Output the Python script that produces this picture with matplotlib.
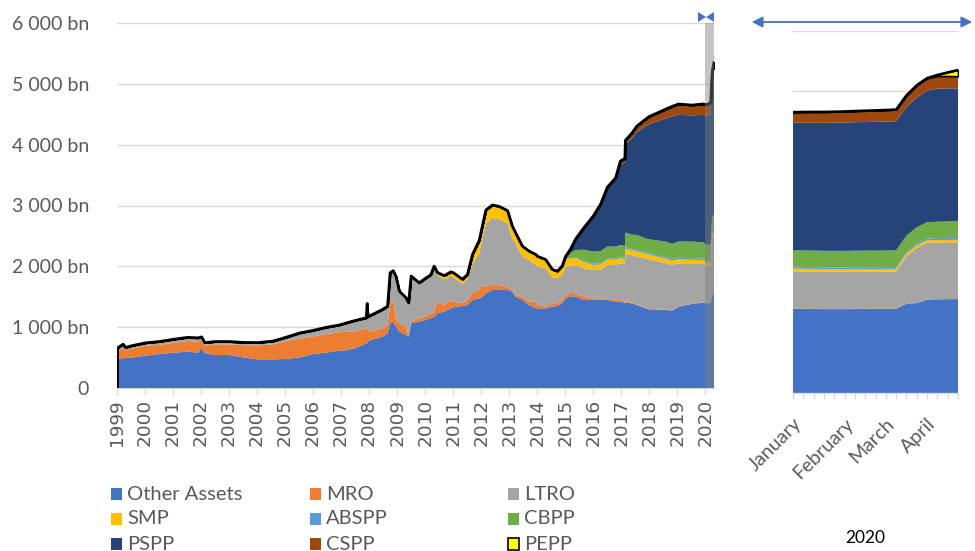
import matplotlib
matplotlib.use('Agg')
import matplotlib.pyplot as plt
import numpy as np
import pandas as pd
from matplotlib.patches import Polygon, Rectangle, FancyArrowPatch

plt.rcParams['font.family'] = ['Lato', 'DejaVu Sans']

series_names = ['Other Assets', 'MRO', 'LTRO', 'SMP', 'ABSPP', 'CBPP', 'PSPP', 'CSPP', 'PEPP']
colors = ['#4472C4', '#ED7D31', '#A5A5A5', '#FFC000', '#5B9BD5', '#70AD47', '#264478', '#9E480E', '#FFFF00']

# ---- historical data (bn EUR), decimal years ----
hist_dates = [1999.00, 1999.22, 1999.30, 1999.52, 2000.02, 2000.52, 2001.02, 2001.52, 2001.90, 2002.02,
              2002.13, 2002.51, 2003.02, 2003.50, 2004.02, 2004.57, 2005.02, 2005.52, 2006.02, 2006.47,
              2006.94, 2007.00, 2007.48, 2007.90, 2007.93, 2007.96, 2008.00, 2008.48, 2008.66, 2008.75,
              2008.86, 2008.96, 2009.08, 2009.32, 2009.41, 2009.50, 2009.79, 2010.00, 2010.20, 2010.32,
              2010.44, 2010.68, 2010.92, 2011.01, 2011.33, 2011.51, 2011.69, 2011.93, 2012.05, 2012.17,
              2012.40, 2012.64, 2012.94, 2013.11, 2013.23, 2013.47, 2013.71, 2013.95, 2014.00, 2014.30,
              2014.54, 2014.72, 2014.89, 2015.01, 2015.19, 2015.37, 2015.67, 2016.00, 2016.26, 2016.50,
              2016.80, 2016.97, 2017.13, 2017.15, 2017.39, 2017.56, 2017.86, 2017.99, 2018.58, 2018.81,
              2019.05, 2019.52, 2019.94]
hist_other = [477, 490, 495, 499, 532, 559, 581, 597, 581, 660,
              575, 542, 542, 504, 471, 471, 477, 504, 559, 581,
              614, 605, 652, 735, 746, 760, 779, 844, 899, 1064,
              1091, 1009, 927, 872, 844, 1064, 1091, 1118, 1150, 1173,
              1228, 1256, 1310, 1327, 1349, 1365, 1448, 1475, 1502, 1557,
              1612, 1612, 1612, 1585, 1502, 1448, 1365, 1310, 1310, 1310,
              1338, 1349, 1393, 1475, 1510, 1502, 1448, 1448, 1448, 1448,
              1420, 1420, 1400, 1404, 1390, 1365, 1310, 1294, 1283, 1272,
              1338, 1382, 1404]
hist_mro = [130, 170, 125, 150, 165, 150, 160, 175, 183, 120,
            120, 176, 176, 200, 230, 245, 290, 310, 290, 307,
            301, 330, 275, 240, 263, 200, 148, 137, 140, 300,
            357, 137, 137, 137, 10, 27, 55, 55, 70, 83,
            192, 109, 138, 93, 44, 83, 109, 137, 192, 110,
            82, 82, 55, 27, 28, 54, 55, 110, 55, 28,
            55, 44, 55, 55, 55, 55, 54, 27, 27, 27,
            27, 27, 20, 20, 15, 10, 8, 5, 5, 5,
            5, 5, 5]
hist_ltro = [45, 60, 45, 45, 45, 55, 60, 60, 60, 60,
             50, 45, 45, 45, 45, 55, 65, 90, 100, 110,
             120, 110, 180, 180, 380, 210, 254, 310, 306, 530,
             480, 690, 528, 473, 546, 749, 583, 627, 640, 747,
             439, 422, 394, 400, 320, 343, 478, 603, 770, 1040,
             1100, 1080, 1040, 850, 850, 660, 685, 603, 631, 630,
             425, 411, 411, 466, 440, 466, 466, 466, 466, 548,
             576, 604, 610, 780, 780, 785, 815, 817, 763, 746,
             708, 664, 642]
hist_smp = [0] * 40 + [40, 60, 68, 75, 75, 75, 160, 210, 215, 219, 214, 211, 209,
                       200, 170, 170, 145, 172, 170, 145, 130, 117, 124,
                       120, 120, 115, 100, 82, 90, 85, 85, 85, 85,
                       85, 80, 83, 80, 80, 75, 70, 65, 55, 50]
hist_abspp = [0] * 63 + [5, 8, 10, 15, 17, 18, 20, 21, 22, 23, 23, 24, 24, 25, 26, 27, 27, 27, 27, 29]
hist_cbpp = [0] * 62 + [20, 40, 90, 120, 190, 203, 200, 197, 196, 194, 200, 243, 230, 250, 224, 223,
                        254, 250, 264, 274, 265]
hist_pspp = [0] * 64 + [60, 180, 364, 583, 770, 967, 1090, 1318, 1370, 1446, 1590, 1690, 1837, 1890,
                        2025, 2093, 2083, 2075, 2095]
hist_cspp = [0] * 69 + [5, 40, 60, 65, 70, 87, 99, 117, 125, 150, 165, 178, 168, 180]
hist_pepp = [0] * 83

# ---- weekly 2020 data (bn EUR) ----
weeks_2020 = ['2020-01-03', '2020-01-10', '2020-01-17', '2020-01-24', '2020-01-31', '2020-02-07',
              '2020-02-14', '2020-02-21', '2020-02-28', '2020-03-06', '2020-03-13', '2020-03-20',
              '2020-03-27', '2020-04-03', '2020-04-10', '2020-04-17', '2020-04-24']
w_other = [1395, 1393, 1392, 1390, 1390, 1390, 1392, 1393, 1394, 1395, 1397, 1480, 1490, 1550, 1553, 1555, 1556]
w_mro = [2, 2, 2, 2, 2, 2, 2, 2, 2, 2, 2, 2, 2, 2, 2, 2, 2]
w_ltro = [620, 620, 618, 617, 617, 616, 616, 616, 616, 616, 616, 784, 913, 937, 940, 940, 940]
w_smp = [45, 45, 45, 44, 44, 44, 44, 44, 43, 43, 43, 43, 42, 41, 41, 40, 40]
w_abspp = [30, 30, 30, 30, 30, 30, 30, 30, 30, 30, 30, 30, 30, 31, 31, 31, 31]
w_cbpp = [272, 272, 273, 273, 273, 274, 274, 274, 275, 275, 276, 270, 270, 270, 272, 276, 280]
w_pspp = [2115, 2118, 2120, 2122, 2125, 2127, 2130, 2132, 2135, 2138, 2140, 2130, 2150, 2180, 2205, 2205, 2200]
w_cspp = [177, 178, 180, 181, 182, 184, 186, 188, 190, 192, 194, 195, 205, 205, 208, 205, 200]
w_pepp = [0, 0, 0, 0, 0, 0, 0, 0, 0, 0, 0, 0, 0, 3, 20, 60, 105]

y_ticks = [0, 1000, 2000, 3000, 4000, 5000, 6000]
y_labels = ['0', '1 000 bn', '2 000 bn', '3 000 bn', '4 000 bn', '5 000 bn', '6 000 bn']
years = list(range(1999, 2021))

hist = [hist_other, hist_mro, hist_ltro, hist_smp, hist_abspp, hist_cbpp, hist_pspp, hist_cspp, hist_pepp]
wk = [w_other, w_mro, w_ltro, w_smp, w_abspp, w_cbpp, w_pspp, w_cspp, w_pepp]

wdt = pd.to_datetime(weeks_2020)
w_dec = list(wdt.year + (wdt.dayofyear - 1) / 366.0)
x_main = np.array(hist_dates + w_dec)
main_series = [np.array(h + w, dtype=float) for h, w in zip(hist, wk)]

W, H = 975, 551
fig = plt.figure(figsize=(W / 100, H / 100), dpi=100)

def fx(px):
    return px / W

def fy(py):
    return 1 - py / H

grid_c = '#D9D9D9'
txt_c = '#595959'

def draw_stack(ax, x, series, lw_total=2.0):
    cum = np.zeros_like(series[0])
    for s, c in zip(series[:8], colors[:8]):
        ax.fill_between(x, cum, cum + s, facecolor=c, edgecolor='none', linewidth=0, zorder=2)
        cum = cum + s
    total = cum + series[8]
    ax.fill_between(x, cum, total, facecolor=colors[8], edgecolor='black', linewidth=1.2, zorder=3)
    ax.plot(x, total, color='black', lw=lw_total, zorder=4, solid_joinstyle='round')
    return total

# ---- main axes ----
ax = fig.add_axes([fx(117), fy(388), fx(714) - fx(117), fy(23) - fy(388)])
total = draw_stack(ax, x_main, main_series)
ax.plot([x_main[0], x_main[0]], [0, total[0]], color='black', lw=2.0, zorder=4)
ax.set_xlim(1999.0, x_main[-1])
ax.set_ylim(0, 6000)
ax.set_yticks(y_ticks)
ax.set_yticklabels(y_labels)
ax.yaxis.grid(True, color=grid_c, lw=1.0, zorder=0)
ax.set_axisbelow(True)
ax.tick_params(axis='y', length=0, pad=20, labelsize=14, labelcolor=txt_c)
ax.set_xticks(years)
ax.set_xticklabels([str(y) for y in years], rotation=90, family=['DejaVu Sans'])
ax.tick_params(axis='x', length=5, width=1, color=grid_c, labelsize=13.3, labelcolor=txt_c, pad=3)
for sp in ['left', 'right', 'top']:
    ax.spines[sp].set_visible(False)
ax.spines['bottom'].set_color(grid_c)
ax.spines['bottom'].set_linewidth(1)
ax.spines['bottom'].set_zorder(1)
# highlighted 2020 band
ax.axvspan(2020.0, x_main[-1], ymin=0, ymax=1, facecolor='#808080', alpha=0.45, edgecolor='none', zorder=5)

# bow-tie marker above the band
fig.add_artist(Polygon([(fx(698), fy(12)), (fx(698), fy(22)), (fx(706), fy(17))], closed=True,
                       transform=fig.transFigure, facecolor='#4472C4', edgecolor='none'))
fig.add_artist(Polygon([(fx(714), fy(12)), (fx(714), fy(22)), (fx(706), fy(17))], closed=True,
                       transform=fig.transFigure, facecolor='#4472C4', edgecolor='none'))

# ---- inset axes (2020 weekly) ----
axi = fig.add_axes([fx(793), fy(393), fx(958) - fx(793), fy(31) - fy(393)])
xi = np.arange(len(weeks_2020))
draw_stack(axi, xi, [np.array(s, dtype=float) for s in wk], lw_total=1.8)
axi.set_xlim(0, len(weeks_2020) - 1)
axi.set_ylim(0, 6000)
axi.set_yticks(y_ticks)
axi.yaxis.grid(True, color=grid_c, lw=1.0, zorder=0)
axi.set_axisbelow(True)
axi.tick_params(axis='y', length=0, labelleft=False)
month_labels = []
prev = None
for d in wdt:
    m = d.strftime('%B')
    month_labels.append(m if m != prev else '')
    prev = m
axi.set_xticks(xi)
axi.set_xticklabels(month_labels, rotation=45, ha='right', rotation_mode='anchor')
axi.tick_params(axis='x', length=4, width=1, color=grid_c, labelsize=14, labelcolor=txt_c, pad=12)
for sp in ['left', 'right', 'top']:
    axi.spines[sp].set_visible(False)
axi.spines['bottom'].set_color(grid_c)
axi.spines['bottom'].set_linewidth(1)

# double arrow above inset
fig.add_artist(FancyArrowPatch((fx(749), fy(22)), (fx(975), fy(22)), transform=fig.transFigure,
                               arrowstyle='<|-|>', mutation_scale=16, color='#4472C4', lw=1.3))

fig.text(fx(865), fy(538), '2020', ha='center', va='center', fontsize=12.5, color='black')

# ---- legend ----
row_y = [494, 519, 544]
col_x = [111, 310, 508]
for i, (name, c) in enumerate(zip(series_names, colors)):
    r, k = divmod(i, 3)
    x0, y0 = col_x[k], row_y[r]
    ec = 'black' if name == 'PEPP' else 'none'
    fig.add_artist(Rectangle((fx(x0), fy(y0 + 6)), 11 / W, 12 / H, transform=fig.transFigure,
                             facecolor=c, edgecolor=ec, lw=1.2))
    fig.text(fx(x0 + 16), fy(y0), name, ha='left', va='center', fontsize=14.5, color=txt_c)

fig.savefig('out.png', dpi=100)
